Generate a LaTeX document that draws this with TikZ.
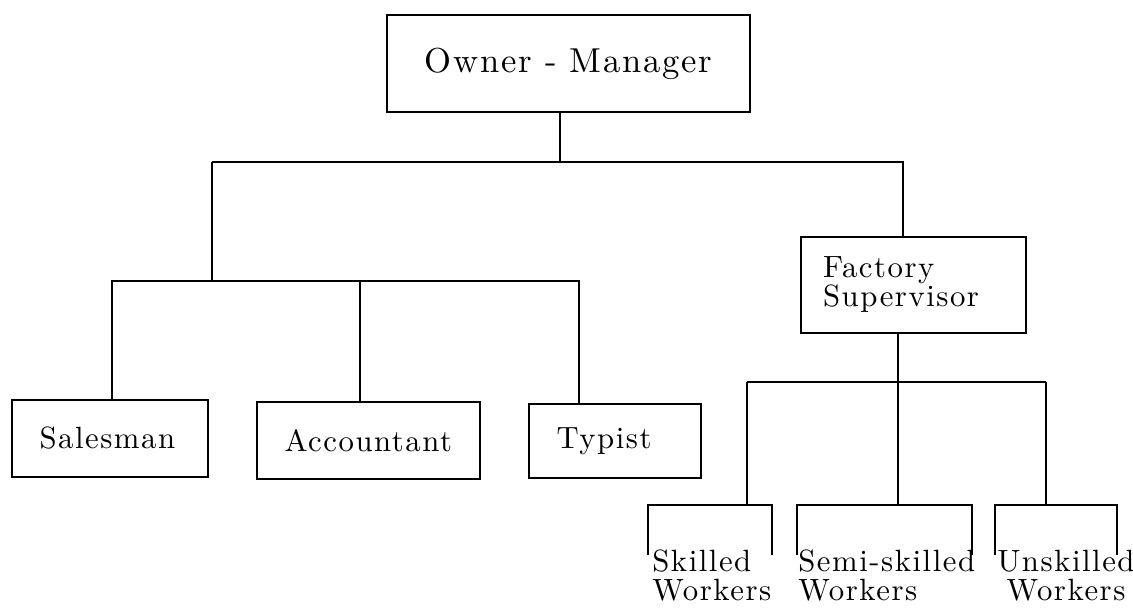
\documentclass[tikz,border=0pt]{standalone}
\usepackage{fontspec}
\newfontfamily\chartfont{lmroman10-regular.otf}[LetterSpace=5]

\tikzset{
    link/.style={line width=1.1pt},
    post/.style={draw, line width=1.2pt, align=left, inner xsep=0.55cm, inner ysep=0pt,
        font=\chartfont\fontsize{17.5}{16.5}\selectfont},
    head/.style={draw, line width=1.2pt, align=center, minimum width=7.26cm, minimum height=1.94cm,
        font=\chartfont\fontsize{19.7}{20}\selectfont},
    crew/.style={inner sep=0pt, font=\chartfont\fontsize{17.5}{16.5}\selectfont},
}

\begin{document}
\begin{tikzpicture}%% owner on top, office and factory below
            \useasboundingbox (0, 0) rectangle (22.66, 12.16);

                \node[head] (owner) at (11.37, 10.89){Owner - Manager};

                \coordinate (top) at (11.2, 8.92);
                \coordinate (topL) at (4.24, 8.92);
                \coordinate (topR) at (18.06, 8.92);
                    \draw[link](top |- owner.south) to (top);

            %% office side
                \node[post, text width=2.82cm, minimum height=1.54cm] (sales) at (2.2, 3.39){Salesman};
                \node[post, text width=3.36cm, minimum height=1.54cm] (accountant) at (7.37, 3.35){Accountant};
                \node[post, text width=2.34cm, minimum height=1.48cm] (typist) at (12.3, 3.34){Typist};

                \coordinate (office) at (4.24, 6.54);
                \coordinate (offL) at (2.24, 6.54);
                \coordinate (offM) at (7.2, 6.54);
                \coordinate (offR) at (11.58, 6.54);
                    \draw[link](topL) to (office);
                    \draw[link](offL |- sales.north) to (offL) to (offR) to (offR |- typist.north);
                    \draw[link](offM) to (offM |- accountant.north);

            %% factory side
                \node[post, inner xsep=0.44cm, text width=3.62cm, minimum height=1.92cm] (factory) at (18.27, 6.46){Factory\\Supervisor};
                    \draw[link](topR |- factory.north) |- (topL);

                \coordinate (shop) at (17.96, 4.52);
                \coordinate (shopL) at (14.94, 4.52);
                \coordinate (shopR) at (20.92, 4.52);
                    \draw[link](shop |- factory.south) to (shop);
                    \draw[link](shopL) to (shopR);

                \coordinate (skilled) at (12.96, 2.06);
                \coordinate (semi) at (15.94, 2.06);
                \coordinate (unskilled) at (19.9, 2.06);
                    \draw[link](shopL) to (shopL |- skilled);
                    \draw[link](shop) to (shop |- semi);
                    \draw[link](shopR) to (shopR |- unskilled);

                    \draw[link](skilled) ++(0, -1) |- ++(2.48, 1) to ++(0, -1);
                    \draw[link](semi) ++(0, -1) |- ++(3.5, 1) to ++(0, -1);
                    \draw[link](unskilled) ++(0, -1) |- ++(2.44, 1) to ++(0, -1);

                \node[crew, align=left, anchor=base west] (skw) at (13.04, 0.14){Skilled\\Workers};
                \node[crew, align=left, anchor=base west] (semiw) at (15.96, 0.14){Semi-skilled\\Workers};
                \node[crew, align=center, anchor=base west] (unskw) at (19.94, 0.14){Unskilled\\Workers};

            \end{tikzpicture}
\end{document}
